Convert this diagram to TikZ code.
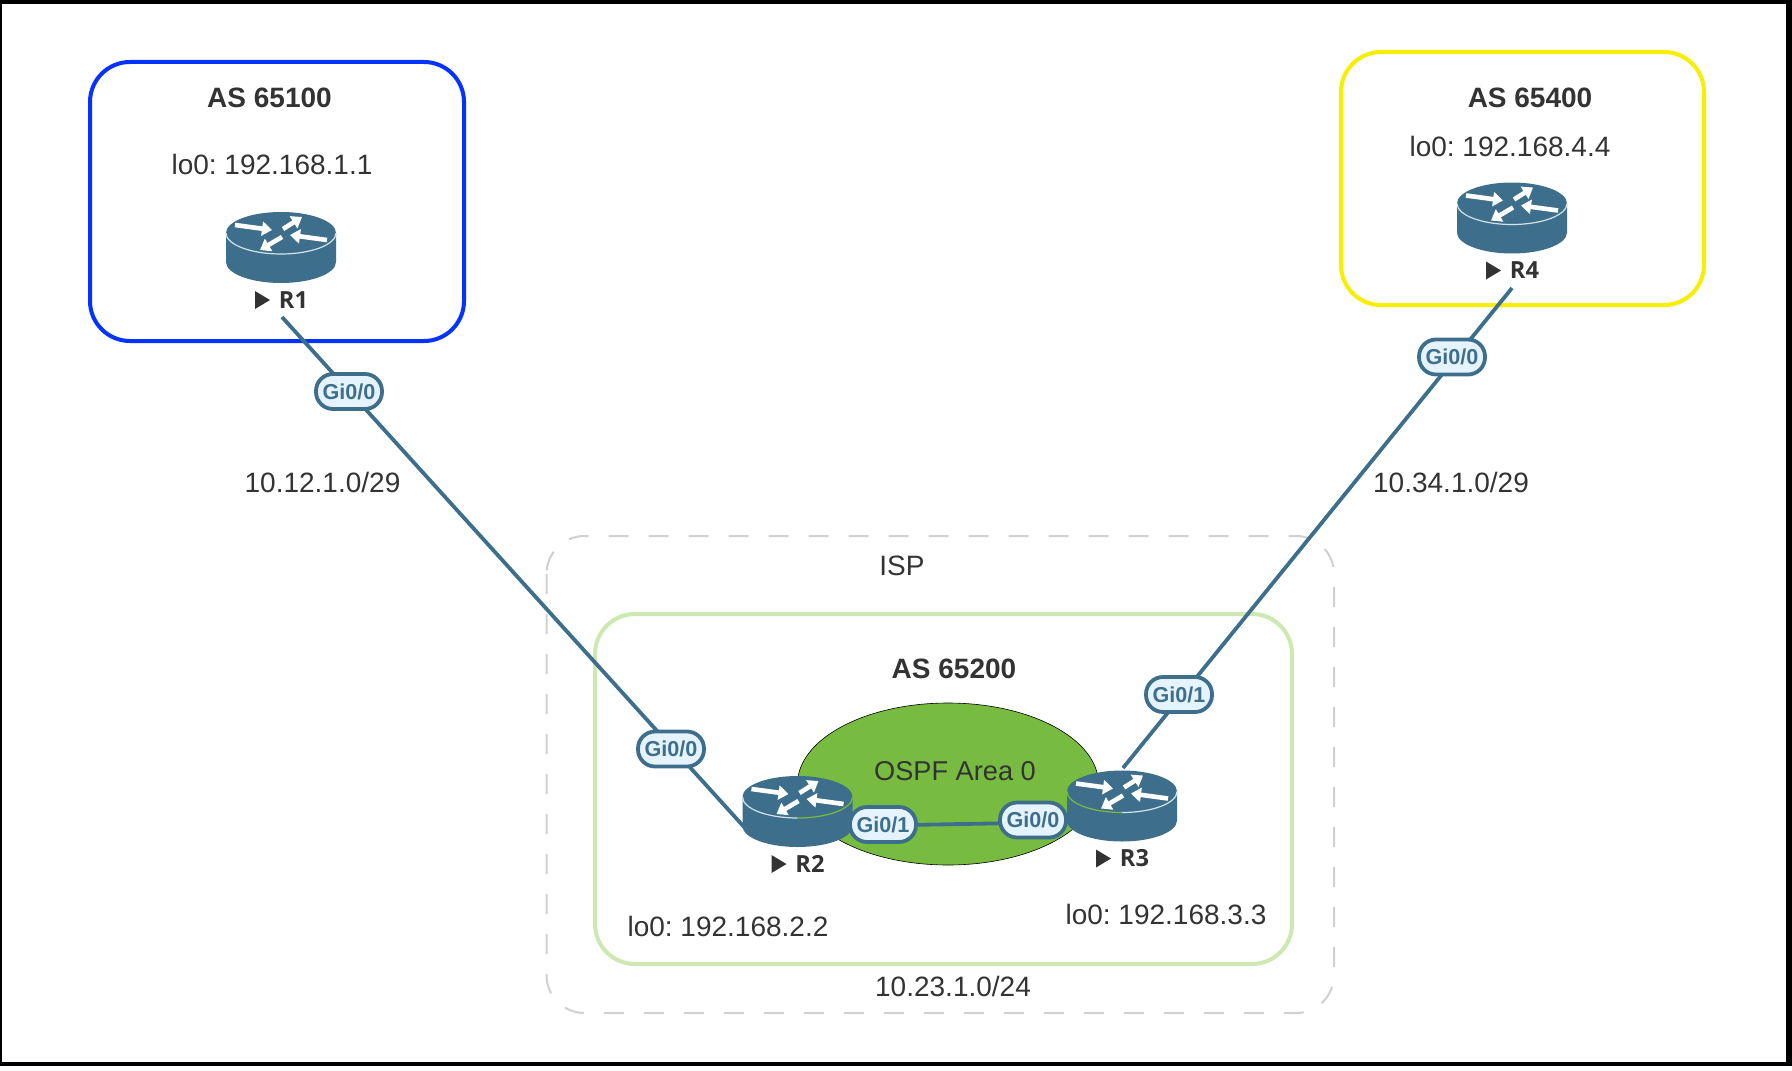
\documentclass[tikz,border=0pt]{standalone}
\usepackage{fontspec}
\setmainfont{Liberation Sans}
\newfontfamily\rlabfont{Open Sans}
\usetikzlibrary{arrows.meta,shapes.geometric}
\definecolor{routerblue}{HTML}{3D6F8C}
\definecolor{portfill}{HTML}{E5F3FE}
\definecolor{inkgrey}{HTML}{333333}
\definecolor{asblue}{HTML}{0432FF}
\definecolor{asyellow}{HTML}{F8EE00}
\definecolor{asgreen}{HTML}{CDE8B0}
\definecolor{dashgrey}{HTML}{D0D0D0}
\definecolor{areagreen}{HTML}{77BB41}
\definecolor{arcwhite}{HTML}{D5E2EA}
\tikzset{
  txt/.style={text=inkgrey,font=\fontsize{14}{16}\selectfont\frenchspacing,inner sep=0pt},
  astitle/.style={text=inkgrey,font=\fontsize{14}{16}\selectfont\bfseries,inner sep=0pt},
  asbox/.style={line width=2pt,rounded corners=20pt},
  routerslot/.style={minimum width=55pt,minimum height=35.5pt,inner sep=0pt},
  link/.style={draw=routerblue,line width=1.9pt},
  port/.style={draw=routerblue,fill=portfill,line width=1.9pt,rounded corners=8.5pt,
    minimum width=33pt,minimum height=17.5pt,inner sep=0pt,text=routerblue,
    font=\fontsize{10.8}{12}\selectfont\bfseries},
  rlabel/.style={text=inkgrey,font=\fontsize{11.8}{13}\selectfont\rlabfont\bfseries,inner sep=0pt},
  rarrow/.style={draw=white,line width=2.3pt,-{Triangle[width=7pt,length=5pt]}}
}
\newcommand{\ciscorouter}[4]{%
  \begin{scope}[shift={(#1)}]
    \fill[routerblue] (-55,-14.5) -- (-55,14.5) arc[start angle=180,end angle=0,x radius=55,y radius=21]
      -- (55,-14.5) arc[start angle=0,end angle=-180,x radius=55,y radius=21] -- cycle;
    \draw[#3,line width=0.6pt] (-55,-14.5) arc[start angle=180,end angle=90,x radius=55,y radius=21];
    \draw[#4,line width=0.6pt] (0,6.5) arc[start angle=90,end angle=0,x radius=55,y radius=21];
    \draw[rarrow] (-46,-22.5) -- (-9,-17.5);
    \draw[rarrow] (2,-18.5) -- (21,-30.5);
    \draw[rarrow] (46,-7.5) -- (9,-12.5);
    \draw[rarrow] (1,-10.5) -- (-21,2.5);
    \fill[inkgrey] (-26,43.5) -- (-11,52.5) -- (-26,61.5) -- cycle;
    \node[rlabel] (#1-lab) at (12.5,52.5) {#2};
  \end{scope}}
\begin{document}
\begin{tikzpicture}[x=0.5pt,y=-0.5pt]
\useasboundingbox (0,0) rectangle (1792,1070);
\fill[white] (0,0) rectangle (1792,1070);
% frame
\fill[black] (0,0) rectangle (1786,4);
\fill[black] (0,0) rectangle (2,1066);
\fill[black] (1786,0) rectangle (1792,1066);
\fill[black] (0,1062) rectangle (1792,1066);
% boxes
\draw[asblue,asbox] (90,62) rectangle (464,341);
\draw[asyellow,asbox] (1341,52) rectangle (1704,305);
\draw[dashgrey,line width=1pt,dash pattern=on 10pt off 10pt,rounded corners=19pt] (546.5,536) rectangle (1334,1013);
\draw[asgreen,asbox] (595,614) rectangle (1292,964);
\node[draw=black,line width=0.3pt,fill=areagreen,shape=ellipse,minimum width=150.5pt,minimum height=81pt,inner sep=0pt] (area) at (948,784) {};
% text
\node[astitle] (as1) at (269.5,98) {AS 65100};
\node[txt] (lo1) at (272,164) {lo0: 192.168.1.1};
\node[astitle] (as4) at (1530,98) {AS 65400};
\node[txt] (lo4) at (1510,146) {lo0: 192.168.4.4};
\node[txt] (net12) at (322.5,482) {10.12.1.0/29};
\node[txt] (net34) at (1451,482) {10.34.1.0/29};
\node[txt] (isp) at (902,566) {ISP};
\node[astitle] (as2) at (954,669) {AS 65200};
\node[txt,font=\fontsize{13.6}{16}\selectfont] (ospf) at (955,771) {OSPF Area 0};
\node[txt] (lo2) at (728,926) {lo0: 192.168.2.2};
\node[txt] (lo3) at (1166,914) {lo0: 192.168.3.3};
\node[txt] (net23) at (953,986) {10.23.1.0/24};
% routers slots
\node[routerslot] (R1) at (281,247.5) {};
\node[routerslot] (R2) at (797.5,811.5) {};
\node[routerslot] (R3) at (1122,806) {};
\node[routerslot] (R4) at (1512,218) {};
% link ends
\coordinate (r1end) at (282,317);
\coordinate (r2end) at (745,828);
\coordinate (r2side) at (850,826);
\coordinate (r3side) at (1075,822);
\coordinate (r3end) at (1123,768);
\coordinate (r4end) at (1512,288);
\draw[link] (r1end) -- (r2end);
\draw[link] (r2side) -- (r3side);
\draw[link] (r3end) -- (r4end);
\ciscorouter{R1}{R1}{arcwhite}{arcwhite}
\ciscorouter{R2}{R2}{arcwhite}{areagreen}
\ciscorouter{R3}{R3}{areagreen}{arcwhite}
\ciscorouter{R4}{R4}{arcwhite}{arcwhite}
% ports
\node[port] (p1) at (349,391.5) {Gi0/0};
\node[port] (p2) at (671,749) {Gi0/0};
\node[port] (p3) at (883,824.5) {Gi0/1};
\node[port] (p4) at (1033,820) {Gi0/0};
\node[port] (p5) at (1179,694.5) {Gi0/1};
\node[port] (p6) at (1452,357) {Gi0/0};
\end{tikzpicture}
\end{document}
